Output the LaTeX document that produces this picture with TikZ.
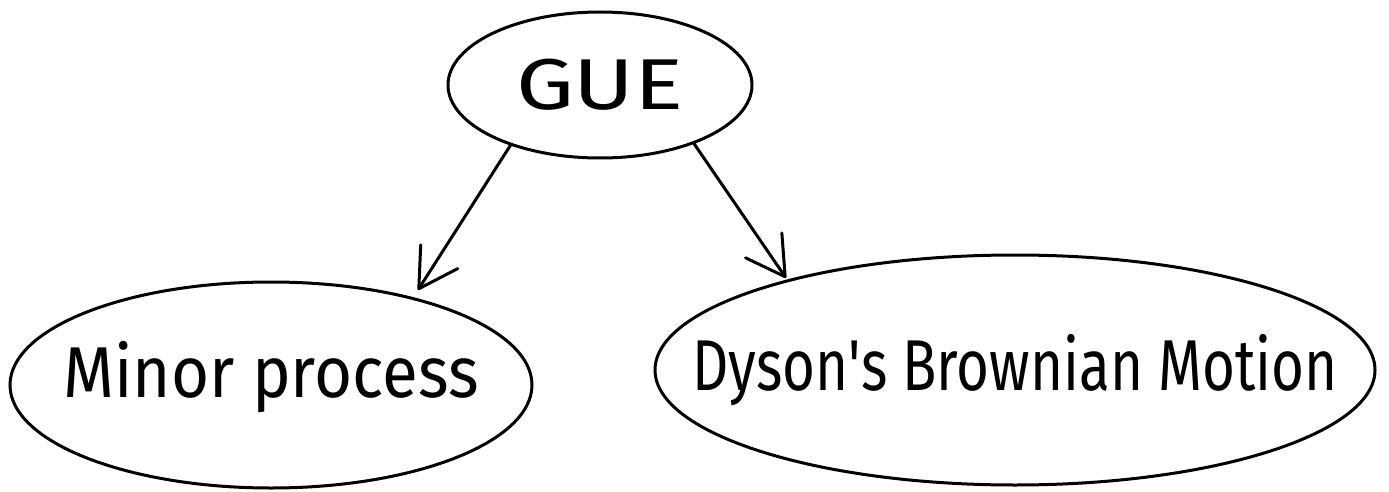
\documentclass[tikz,border=0pt]{standalone}
\usepackage{fontspec}
\setmainfont{Fira Sans}
\usetikzlibrary{shapes.geometric,arrows.meta}
\begin{document}
\begin{tikzpicture}[x=1pt,y=1pt,
  bubble/.style={ellipse, draw, line width=3pt, inner sep=0pt},
  lbl/.style={font=\fontsize{72}{80}\selectfont, inner sep=0pt},
  link/.style={line width=3pt, line cap=round,
    -{Straight Barb[round,length=38pt,width=44pt]}}]
\useasboundingbox (0,0) rectangle (1389,491);
\node[bubble, minimum width=304pt, minimum height=146pt,
  label={[lbl]center:\resizebox{168pt}{\height}{GUE}}] (gue) at (600,406) {};
\node[bubble, minimum width=522pt, minimum height=206pt,
  label={[lbl, yshift=8pt]center:\resizebox{415pt}{\height}{Minor process}}] (minor) at (271,106) {};
\node[bubble, minimum width=720pt, minimum height=230pt,
  label={[lbl]center:\resizebox{645pt}{\height}{Dyson\textquotesingle s Brownian Motion}}] (dyson) at (1015,121) {};
\coordinate (mtip) at (418,201);
\coordinate (dtip) at (786,213);
\draw[link] (gue.214.6) -- (mtip);
\draw[link] (gue.328.5) -- (dtip);
\end{tikzpicture}
\end{document}
